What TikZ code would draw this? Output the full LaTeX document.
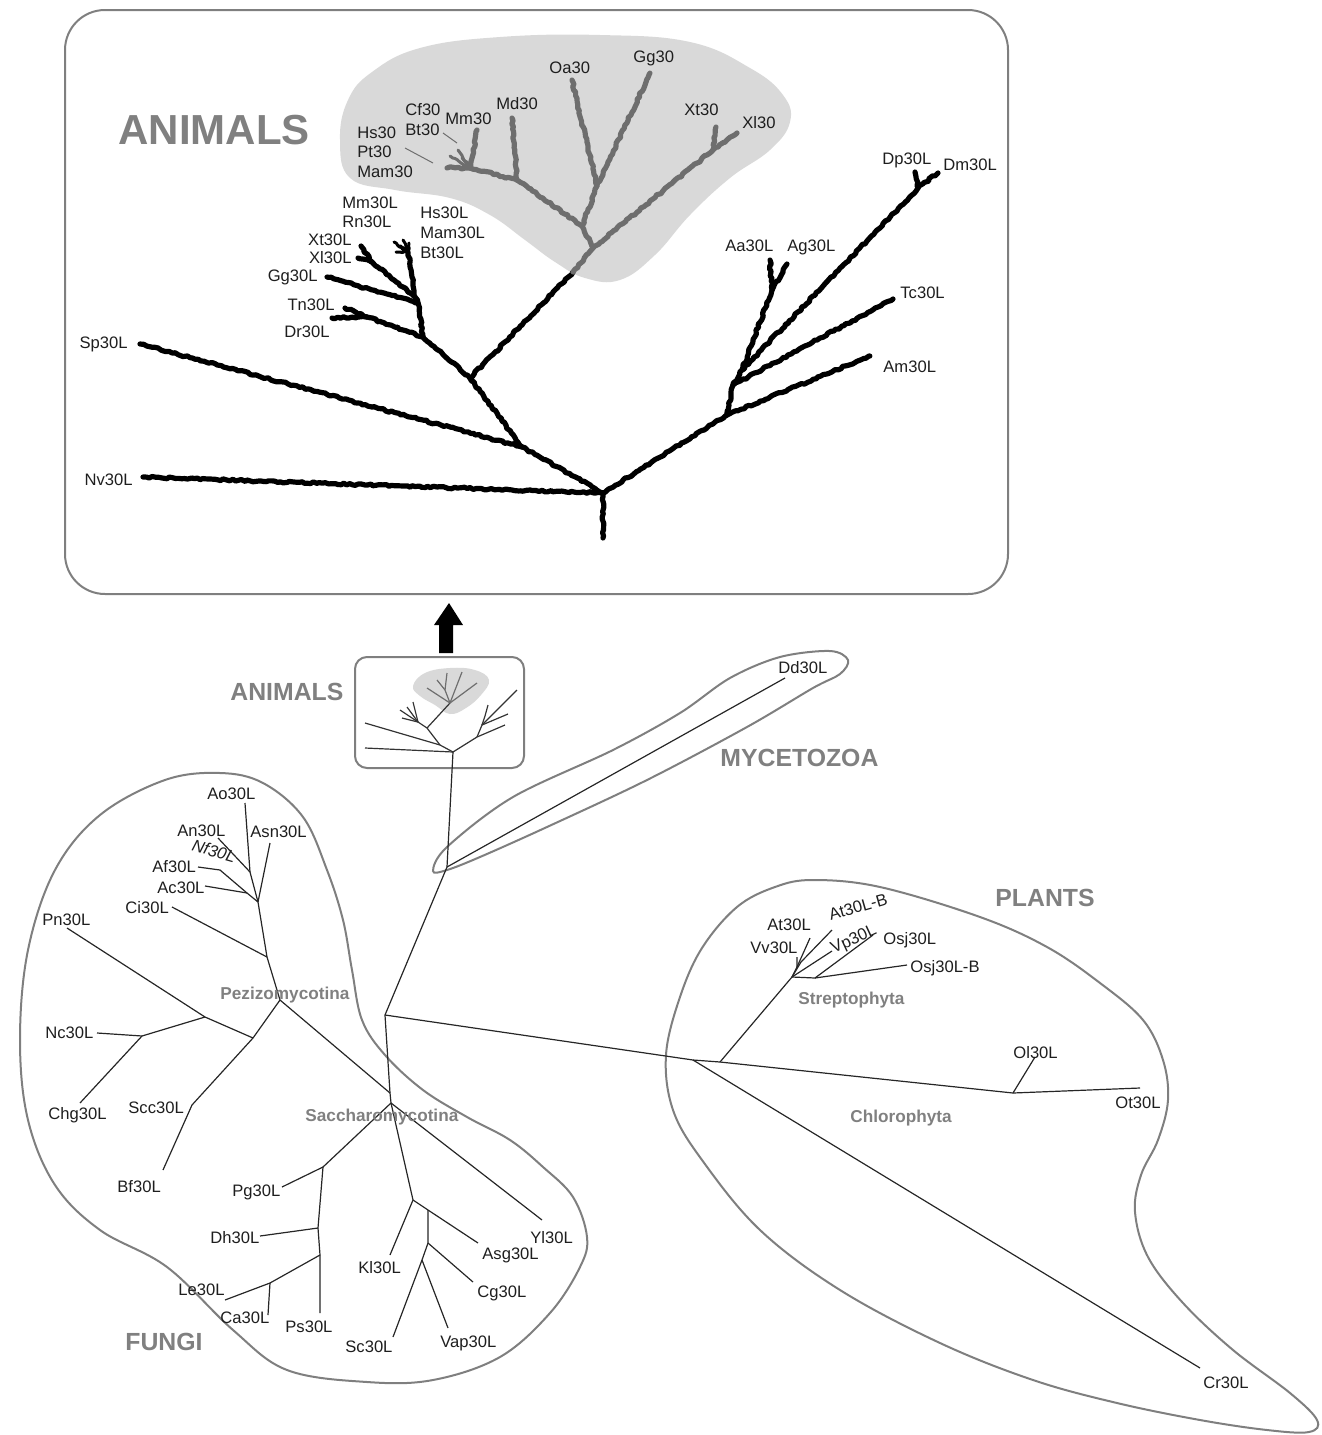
\documentclass[tikz,border=0pt]{standalone}
\usepackage{fontspec}
\setmainfont{Liberation Sans}
\usetikzlibrary{decorations.pathmorphing}
\definecolor{outl}{HTML}{7F7F7F}
\definecolor{grp}{HTML}{808080}
\definecolor{blob}{HTML}{D9D9D9}
\definecolor{gtree}{HTML}{6E6E6E}
\definecolor{txt}{HTML}{1E1E1E}
\begin{document}
\begin{tikzpicture}[x=0.5pt,y=-0.5pt,
  lab/.style={font=\fontsize{8.3}{9.5}\selectfont, text=txt, inner sep=0pt},
  labw/.style={lab, anchor=west},
  labe/.style={lab, anchor=east},
  grplab/.style={font=\fontsize{12.4}{14}\selectfont\bfseries, text=grp, inner sep=0pt, anchor=west},
  sublab/.style={font=\fontsize{8.6}{10}\selectfont\bfseries, text=grp, inner sep=0pt, anchor=west},
  br/.style={line width=0.6pt, draw=black!85, line join=round},
  sbr/.style={line width=0.6pt, draw=black!80, line join=round},
  sgbr/.style={line width=0.6pt, draw=gtree, line join=round},
  thk/.style={line width=2.6pt, draw=black, line join=round, line cap=round, decorate, decoration={random steps, segment length=1.5pt, amplitude=0.5pt}},
  thkg/.style={thk, draw=gtree},
  outline/.style={draw=outl, line width=1pt}]
\useasboundingbox (0,0) rectangle (1322,1435);

% ================= TOP BOX =================
\draw[outline, rounded corners=20pt] (65,10) rectangle (1008,594);
\fill[blob] plot[smooth cycle, tension=0.7] coordinates {(340,140) (348,100) (372,72) (420,48) (500,37) (600,35) (690,42) (750,68) (783,95) (790,122) (770,150) (730,178) (690,215) (655,255) (620,280) (585,278) (555,262) (525,240) (490,215) (450,198) (395,190) (350,178)};
\node[font=\fontsize{21}{24}\selectfont\bfseries, text=grp, inner sep=0pt, anchor=west] (bigAnimals) at (118,130) {ANIMALS};

% black tree coordinates
\coordinate (R) at (603,493);
\coordinate (Rs) at (603,538);
\coordinate (Nvt) at (143,477);
\coordinate (A) at (522,447);
\coordinate (Spt) at (140,344);
\coordinate (B) at (470,378);
\coordinate (Bg) at (573,272);
\coordinate (C1) at (423,337);
\coordinate (TD) at (367,317);
\coordinate (Drt) at (332,318);
\coordinate (Tnt) at (345,308);
\coordinate (C2) at (418,303);
\coordinate (Ggt) at (327,277);
\coordinate (C3) at (415,297);
\coordinate (XX) at (372,262);
\coordinate (Xtt) at (361,246);
\coordinate (Xlt) at (358,258);
\coordinate (C4) at (408,252);
\coordinate (M1) at (394,242);
\coordinate (M2) at (399,246);
\coordinate (M3) at (403,240);
\coordinate (M4) at (409,243);
\coordinate (M5) at (396,252);
\coordinate (D) at (727,415);
\coordinate (Amt) at (870,356);
\coordinate (D2) at (733,385);
\coordinate (Tct) at (893,299);
\coordinate (D3) at (742,370);
\coordinate (DD) at (918,188);
\coordinate (Dmt) at (938,173);
\coordinate (Dpt) at (915,172);
\coordinate (AA) at (772,290);
\coordinate (Aat) at (770,260);
\coordinate (Agt) at (787,264);
% gray tree coordinates
\coordinate (J1) at (593,248);
\coordinate (G2) at (582,226);
\coordinate (G3) at (597,186);
\coordinate (Oat) at (572,80);
\coordinate (Ggt2) at (650,73);
\coordinate (Gm1) at (517,180);
\coordinate (Mdt) at (512,118);
\coordinate (Gm2) at (470,168);
\coordinate (Mmt) at (477,130);
\coordinate (Mat) at (447,168);
\coordinate (Gt1) at (450,156);
\coordinate (Gt2) at (458,150);
\coordinate (Gt3) at (462,158);
\coordinate (Gx) at (713,150);
\coordinate (Xlt2) at (737,133);
\coordinate (Xtt2) at (716,127);

% black thick branches
\draw[thk] (Rs) -- (R);
\draw[thk] (Nvt) -- (R);
\draw[thk] (Spt) -- (A) -- (R);
\draw[thk] (A) -- (B) -- (Bg);
\draw[thk] (B) -- (C1) -- (C2) -- (C3) -- (C4);
\draw[thk] (C1) -- (TD) -- (Drt);
\draw[thk] (TD) -- (Tnt);
\draw[thk] (C2) -- (Ggt);
\draw[thk] (C3) -- (XX) -- (Xtt);
\draw[thk] (XX) -- (Xlt);
\draw[thk, line width=1.5pt] (C4) -- (M1);
\draw[thk, line width=1.5pt] (C4) -- (M2);
\draw[thk, line width=1.5pt] (C4) -- (M3);
\draw[thk, line width=1.5pt] (C4) -- (M4);
\draw[thk, line width=1.5pt] (C4) -- (M5);
\draw[thk] (R) -- (D) -- (Amt);
\draw[thk] (D) -- (D2) -- (Tct);
\draw[thk] (D2) -- (D3) -- (DD) -- (Dmt);
\draw[thk] (DD) -- (Dpt);
\draw[thk] (D3) -- (AA) -- (Aat);
\draw[thk] (AA) -- (Agt);
% gray thick branches
\draw[thkg] (Bg) -- (J1) -- (G2) -- (G3) -- (Oat);
\draw[thkg] (G3) -- (Ggt2);
\draw[thkg] (G2) -- (Gm1) -- (Mdt);
\draw[thkg] (Gm1) -- (Gm2) -- (Mmt);
\draw[thkg] (Gm2) -- (Mat);
\draw[thkg, line width=1.5pt] (Gm2) -- (Gt1);
\draw[thkg, line width=1.5pt] (Gm2) -- (Gt2);
\draw[thkg, line width=1.5pt] (Gm2) -- (Gt3);
\draw[thkg] (J1) -- (Gx) -- (Xlt2);
\draw[thkg] (Gx) -- (Xtt2);

% top labels
\node[labw] (lHs30) at (357,133) {Hs30};
\node[labw] (lPt30) at (357,152) {Pt30};
\node[labw] (lMam30) at (357,172) {Mam30};
\node[labw] (lCf30) at (405,110) {Cf30};
\node[labw] (lBt30) at (405,130) {Bt30};
\node[labw] (lMm30) at (445,119) {Mm30};
\node[labw] (lMd30) at (496,104) {Md30};
\node[labw] (lOa30) at (549,68) {Oa30};
\node[labw] (lGg30) at (633,58) {Gg30};
\node[labw] (lXt30) at (684,110) {Xt30};
\node[labw] (lXl30) at (742,123) {Xl30};
\coordinate (ldA) at (405,148);
\coordinate (ldB) at (433,163);
\coordinate (ldC) at (443,133);
\coordinate (ldD) at (457,143);
\draw[gtree, line width=0.5pt] (ldA) -- (ldB);
\draw[gtree, line width=0.5pt] (ldC) -- (ldD);

\node[labw] (lMm30L) at (342,203) {Mm30L};
\node[labw] (lRn30L) at (342,222) {Rn30L};
\node[labw] (lHs30L) at (420,213) {Hs30L};
\node[labw] (lMam30L) at (420,233) {Mam30L};
\node[labw] (lBt30L) at (420,253) {Bt30L};
\node[labe] (lXt30L) at (352,240) {Xt30L};
\node[labe] (lXl30L) at (352,258) {Xl30L};
\node[labe] (lGg30L) at (318,277) {Gg30L};
\node[labe] (lTn30L) at (335,305) {Tn30L};
\node[labe] (lDr30L) at (330,332) {Dr30L};
\node[labe] (lSp30L) at (128,344) {Sp30L};
\node[labe] (lNv30L) at (133,480) {Nv30L};
\node[labw] (lAa30L) at (725,246) {Aa30L};
\node[labw] (lAg30L) at (787,247) {Ag30L};
\node[labw] (lDp30L) at (882,160) {Dp30L};
\node[labw] (lDm30L) at (943,165) {Dm30L};
\node[labw] (lTc30L) at (900,293) {Tc30L};
\node[labw] (lAm30L) at (883,367) {Am30L};

% ================= ARROW =================
\fill[black] (439,653) -- (439,625) -- (434,625) -- (449,603) -- (463,625) -- (453,625) -- (453,653) -- cycle;

% ================= SMALL BOX =================
\draw[outline, rounded corners=6pt] (355,657) rectangle (524,768);
\fill[blob] plot[smooth cycle, tension=0.7] coordinates {(413,686) (425,673) (450,668) (475,670) (489,680) (481,695) (466,708) (450,714) (435,705) (420,696)};
\node[grplab] (lAnimalsS) at (230,692) {ANIMALS};
\coordinate (SR) at (453,752);
\coordinate (sNv) at (365,748);
\coordinate (sA) at (440,745);
\coordinate (sSp) at (365,723);
\coordinate (sB) at (427,728);
\coordinate (sG) at (450,703);
\coordinate (sC) at (418,722);
\coordinate (sC1) at (402,718);
\coordinate (sC2) at (400,710);
\coordinate (sC3) at (407,707);
\coordinate (sC4) at (413,702);
\coordinate (sD) at (477,737);
\coordinate (sD1) at (505,725);
\coordinate (sD2) at (482,725);
\coordinate (sD2a) at (508,714);
\coordinate (sD2b) at (517,690);
\coordinate (sD3) at (485,716);
\coordinate (sD3a) at (488,705);
\coordinate (sG1) at (427,688);
\coordinate (sG2) at (445,690);
\coordinate (sG2a) at (437,680);
\coordinate (sG2b) at (447,673);
\coordinate (sG3) at (462,672);
\coordinate (sG4) at (477,683);
\draw[sbr] (SR) -- (sNv);
\draw[sbr] (SR) -- (sA) -- (sSp);
\draw[sbr] (sA) -- (sB) -- (sG);
\draw[sbr] (sB) -- (sC) -- (sC1);
\draw[sbr] (sC) -- (sC2);
\draw[sbr] (sC) -- (sC3);
\draw[sbr] (sC) -- (sC4);
\draw[sbr] (SR) -- (sD) -- (sD1);
\draw[sbr] (sD) -- (sD2) -- (sD2a);
\draw[sbr] (sD2) -- (sD2b);
\draw[sbr] (sD2) -- (sD3) -- (sD3a);
\draw[sgbr] (sG) -- (sG1);
\draw[sgbr] (sG) -- (sG2) -- (sG2a);
\draw[sgbr] (sG2) -- (sG2b);
\draw[sgbr] (sG) -- (sG3);
\draw[sgbr] (sG) -- (sG4);

% ================= MYCETOZOA =================
\draw[outline] plot[smooth cycle, tension=0.55] coordinates {(433,871) (447,847) (513,797) (613,750) (680,713) (730,678) (780,657) (830,651) (848,660) (840,674) (813,688) (747,727) (647,780) (547,827) (480,857) (447,870)};
\node[grplab] (lMyc) at (720,758) {MYCETOZOA};

% ================= FUNGI OUTLINE =================
\draw[outline] plot[smooth cycle, tension=0.6] coordinates {(343,920) (352,970) (362,1020) (385,1055) (423,1090) (467,1117) (510,1140) (543,1167) (573,1197) (587,1237) (580,1267) (550,1313) (500,1357) (433,1380) (367,1382) (287,1370) (233,1330) (167,1267) (100,1230) (55,1185) (28,1120) (20,1040) (28,950) (55,870) (100,815) (165,780) (220,773) (263,783) (303,817) (327,870)};

% ================= PLANTS OUTLINE =================
\draw[outline] plot[smooth cycle, tension=0.6] coordinates {(680,997) (702,948) (737,907) (775,887) (813,880) (880,887) (980,917) (1047,947) (1100,983) (1143,1020) (1163,1060) (1168,1100) (1158,1140) (1141,1175) (1135,1212) (1148,1257) (1183,1303) (1233,1350) (1290,1393) (1317,1420) (1309,1432) (1267,1430) (1200,1420) (1117,1403) (1033,1380) (940,1343) (840,1290) (760,1230) (702,1160) (673,1110) (666,1055)};

% ================= MAIN THIN TREE =================
\coordinate (Dj) at (447,867);
\coordinate (Ddt) at (785,678);
\coordinate (P) at (385,1015);
\coordinate (F) at (390,1093);
\coordinate (S) at (391,1103);
\coordinate (Q) at (693,1060);
\coordinate (Q2) at (720,1062);
\draw[br] (SR) -- (Dj) -- (P) -- (F) -- (S);
\draw[br] (Dj) -- (Ddt);
\draw[br] (P) -- (Q) -- (Q2);
% Pezizomycotina
\coordinate (Pz) at (280,1000);
\coordinate (Cij) at (267,957);
\coordinate (Cit) at (172,907);
\coordinate (A3) at (258,902);
\coordinate (A1) at (250,872);
\coordinate (Aot) at (245,803);
\coordinate (Ant) at (218,838);
\coordinate (Asnt) at (270,843);
\coordinate (A2) at (247,893);
\coordinate (NfA) at (220,870);
\coordinate (Aft) at (198,867);
\coordinate (Act) at (205,886);
\coordinate (Pzl) at (253,1038);
\coordinate (N1) at (205,1017);
\coordinate (Pnt) at (67,928);
\coordinate (N2) at (142,1036);
\coordinate (Nct) at (97,1033);
\coordinate (Chgt) at (80,1103);
\coordinate (Scn) at (192,1105);
\coordinate (Bft) at (163,1170);
\draw[br] (F) -- (Pz) -- (Cij) -- (A3) -- (A1) -- (Aot);
\draw[br] (A1) -- (Ant);
\draw[br] (A3) -- (Asnt);
\draw[br] (A3) -- (A2) -- (NfA) -- (Aft);
\draw[br] (A2) -- (Act);
\draw[br] (Cij) -- (Cit);
\draw[br] (Pz) -- (Pzl) -- (N1) -- (Pnt);
\draw[br] (N1) -- (N2) -- (Nct);
\draw[br] (N2) -- (Chgt);
\draw[br] (Pzl) -- (Scn) -- (Bft);
% Saccharomycotina
\coordinate (Ylt) at (542,1220);
\coordinate (Pgn) at (323,1167);
\coordinate (Pgt) at (282,1187);
\coordinate (Dhn) at (318,1228);
\coordinate (Dht) at (260,1236);
\coordinate (Psn) at (320,1255);
\coordinate (Pst) at (320,1313);
\coordinate (Len) at (270,1283);
\coordinate (Let) at (225,1300);
\coordinate (Cat) at (268,1315);
\coordinate (K) at (413,1200);
\coordinate (Klt) at (390,1255);
\coordinate (K2) at (428,1210);
\coordinate (Asgt) at (478,1243);
\coordinate (K3) at (428,1243);
\coordinate (Cgt) at (473,1282);
\coordinate (K4) at (422,1260);
\coordinate (Sct) at (393,1337);
\coordinate (Vapt) at (448,1328);
\draw[br] (S) -- (Ylt);
\draw[br] (S) -- (Pgn) -- (Pgt);
\draw[br] (Pgn) -- (Dhn) -- (Dht);
\draw[br] (Dhn) -- (Psn) -- (Pst);
\draw[br] (Psn) -- (Len) -- (Let);
\draw[br] (Len) -- (Cat);
\draw[br] (S) -- (K) -- (Klt);
\draw[br] (K) -- (K2) -- (Asgt);
\draw[br] (K2) -- (K3) -- (Cgt);
\draw[br] (K3) -- (K4) -- (Sct);
\draw[br] (K4) -- (Vapt);
% Plants
\coordinate (St) at (792,977);
\coordinate (St2) at (797,967);
\coordinate (Vvt) at (797,957);
\coordinate (Att) at (810,938);
\coordinate (AtBn) at (801,962);
\coordinate (AtBt) at (832,930);
\coordinate (Vpt) at (832,951);
\coordinate (O1) at (815,978);
\coordinate (Osjt) at (873,935);
\coordinate (OsjBt) at (907,965);
\coordinate (Chn) at (1013,1093);
\coordinate (Olt) at (1035,1057);
\coordinate (Ott) at (1140,1088);
\coordinate (Crt) at (1200,1368);
\draw[br] (Q2) -- (St) -- (St2) -- (Vvt);
\draw[br] (St2) -- (Att);
\draw[br] (St) -- (AtBn) -- (AtBt);
\draw[br] (St) -- (Vpt);
\draw[br] (St) -- (O1) -- (Osjt);
\draw[br] (O1) -- (OsjBt);
\draw[br] (Q2) -- (Chn) -- (Ott);
\draw[br] (Chn) -- (Olt);
\draw[br] (Q) -- (Crt);

% ================= BOTTOM LABELS =================
\node[labw] (lDd) at (778,668) {Dd30L};
\node[labw] (lAo) at (207,794) {Ao30L};
\node[labw] (lAn) at (177,831) {An30L};
\node[labw] (lAsn) at (250,832) {Asn30L};
\node[lab, rotate=-16] (lNf) at (214,851) {\itshape Nf30L};
\node[labw] (lAf) at (152,867) {Af30L};
\node[labw] (lAc) at (157,888) {Ac30L};
\node[labw] (lCi) at (125,908) {Ci30L};
\node[labw] (lPn) at (42,920) {Pn30L};
\node[labw] (lNc) at (45,1033) {Nc30L};
\node[labw] (lChg) at (48,1115) {Chg30L};
\node[labw] (lScc) at (128,1108) {Scc30L};
\node[labw] (lBf) at (117,1187) {Bf30L};
\node[labw] (lPg) at (232,1192) {Pg30L};
\node[labw] (lDh) at (210,1238) {Dh30L};
\node[labw] (lLe) at (178,1290) {Le30L};
\node[labw] (lCa) at (220,1318) {Ca30L};
\node[labw] (lPs) at (285,1327) {Ps30L};
\node[labw] (lKl) at (358,1268) {Kl30L};
\node[labw] (lSc) at (345,1347) {Sc30L};
\node[labw] (lVap) at (440,1343) {Vap30L};
\node[labw] (lCg) at (477,1293) {Cg30L};
\node[labw] (lAsg) at (482,1255) {Asg30L};
\node[labw] (lYl) at (530,1238) {Yl30L};
\node[sublab] (lPez) at (220,995) {Pezizomycotina};
\node[sublab] (lSac) at (305,1117) {Saccharomycotina};
\node[grplab] (lFungi) at (125,1342) {FUNGI};

\node[labw] (lAt) at (767,925) {At30L};
\node[labw] (lVv) at (750,948) {Vv30L};
\node[lab, rotate=16] (lAtB) at (858,907) {At30L-B};
\node[lab, rotate=25] (lVp) at (854,940) {Vp30L};
\node[labw] (lOsj) at (883,940) {Osj30L};
\node[labw] (lOsjB) at (910,968) {Osj30L-B};
\node[sublab] (lStr) at (798,1000) {Streptophyta};
\node[sublab] (lChl) at (850,1118) {Chlorophyta};
\node[labw] (lOl) at (1013,1053) {Ol30L};
\node[labw] (lOt) at (1115,1103) {Ot30L};
\node[labw] (lCr) at (1203,1383) {Cr30L};
\node[grplab] (lPlants) at (995,898) {PLANTS};
\end{tikzpicture}
\end{document}
